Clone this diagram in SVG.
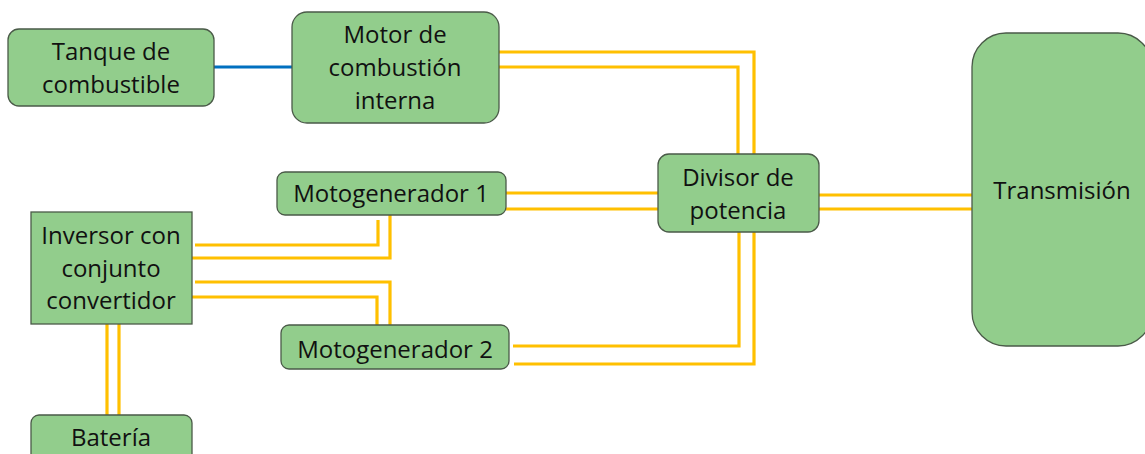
<svg xmlns="http://www.w3.org/2000/svg" width="1145" height="454" viewBox="0 0 1145 454">
<style>
.n{fill:#92CD8C;stroke:#4a5a48;stroke-width:1.3}
.t{font-family:"Open Sans","Noto Sans",sans-serif;font-size:24px;fill:#111;text-anchor:middle}
.y{fill:none;stroke:#FFC000;stroke-width:3.2}
.b{fill:none;stroke:#0070C0;stroke-width:3.2}
</style>
<rect width="1145" height="454" fill="#fff"/>
<g id="connectors">
<path class="b" d="M214 67H292"/>
<path class="y" d="M499 52H754V155"/>
<path class="y" d="M499 67H738V155"/>
<path class="y" d="M506 193H658"/>
<path class="y" d="M506 209H658"/>
<path class="y" d="M819 195H972"/>
<path class="y" d="M819 209H972"/>
<path class="y" d="M195 245H378V220"/>
<path class="y" d="M192 258H390V215"/>
<path class="y" d="M195 282H390V325"/>
<path class="y" d="M192 297H377V325"/>
<path class="y" d="M513 346H739V232"/>
<path class="y" d="M514 364H754V232"/>
<path class="y" d="M107 324V415"/>
<path class="y" d="M119 324V415"/>
</g>
<g id="tanque"><rect class="n" x="8" y="29" width="206" height="77" rx="11"/>
<text class="t" x="111" y="60">Tanque de</text><text class="t" x="111" y="93">combustible</text></g>
<g id="motor"><rect class="n" x="292" y="12" width="207" height="111" rx="15"/>
<text class="t" x="395" y="43">Motor de</text><text class="t" x="395" y="76">combustión</text><text class="t" x="395" y="109">interna</text></g>
<g id="divisor"><rect class="n" x="658" y="154" width="161" height="78" rx="11"/>
<text class="t" x="738" y="186">Divisor de</text><text class="t" x="738" y="219">potencia</text></g>
<g id="mg1"><rect class="n" x="277" y="172" width="229" height="43" rx="8"/>
<text class="t" x="391" y="202">Motogenerador 1</text></g>
<g id="inversor"><rect class="n" x="31" y="212" width="161" height="112"/>
<text class="t" x="111" y="244">Inversor con</text><text class="t" x="111" y="277">conjunto</text><text class="t" x="111" y="309">convertidor</text></g>
<g id="mg2"><rect class="n" x="281" y="325" width="228" height="44" rx="8"/>
<text class="t" x="395" y="358">Motogenerador 2</text></g>
<g id="transmision"><rect class="n" x="972" y="33" width="180" height="313" rx="34"/>
<text class="t" x="1062" y="199">Transmisión</text></g>
<g id="bateria"><rect class="n" x="31" y="415" width="161" height="60" rx="8"/>
<text class="t" x="111" y="446">Batería</text></g>
</svg>
